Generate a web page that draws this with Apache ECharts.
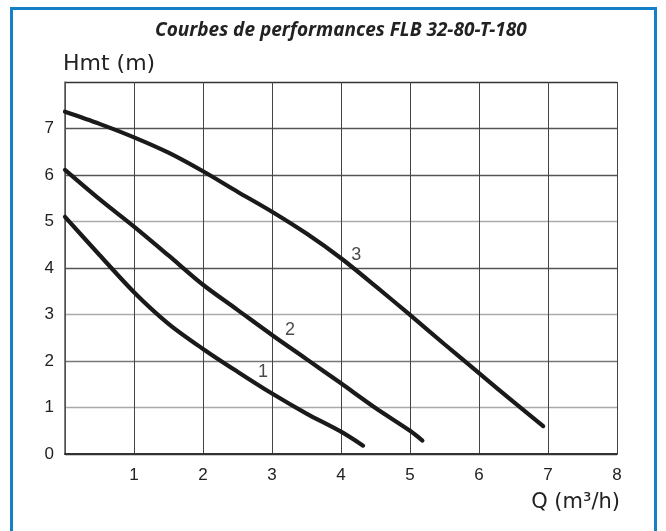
<!DOCTYPE html>
<html>
<head>
<meta charset="utf-8">
<script src="https://cdn.jsdelivr.net/npm/echarts@6/dist/echarts.min.js"></script>
<style>
    html, body { margin: 0; padding: 0; background: #fff; }
    #main { width: 666px; height: 531px; }
</style>
</head>
<body>
<div id="main"></div>
<script>
// courbe 1
var q1 = [0, 0.5, 1, 1.5, 2, 2.5, 3, 3.5, 4, 4.32];
var h1 = [5.1, 4.28, 3.48, 2.8, 2.26, 1.77, 1.3, 0.87, 0.48, 0.18];
// courbe 2
var q2 = [0, 0.5, 1, 1.5, 2, 2.5, 3, 3.5, 4, 4.5, 5, 5.18];
var h2 = [6.11, 5.48, 4.89, 4.27, 3.64, 3.1, 2.56, 2.04, 1.52, 0.99, 0.5, 0.29];
// courbe 3
var q3 = [0, 0.5, 1, 1.5, 2, 2.5, 3, 3.5, 4, 4.5, 5, 5.5, 6, 6.5, 6.93];
var h3 = [7.36, 7.1, 6.81, 6.48, 6.08, 5.64, 5.21, 4.74, 4.21, 3.61, 2.99, 2.36, 1.74, 1.12, 0.6];
// numeros des courbes
var curveNames = ['1', '2', '3'];
var labelQ = [2.87, 3.26, 4.22];
var labelH = [1.77, 2.67, 4.28];

function pairs(xs, ys) {
    var out = [];
    for (let i = 0; i < xs.length; i++) {
        out.push([xs[i], ys[i]]);
    }
    return out;
}

var labelData = [];
for (let i = 0; i < curveNames.length; i++) {
    labelData.push({ name: curveNames[i], value: [labelQ[i], labelH[i]] });
}

var curveStyle = { color: '#1a1a1a', width: 4.2, cap: 'round' };

var myChart = echarts.init(document.getElementById('main'));
var option = {
    animation: false,
    backgroundColor: '#fff',
    title: [{
        text: 'Courbes de performances FLB 32-80-T-180',
        left: 155,
        top: 21,
        padding: 0,
        textStyle: { fontFamily: 'Noto Sans', fontStyle: 'italic', fontWeight: 'bold', fontSize: 19, color: '#222' }
    }, {
        text: 'Hmt (m)',
        left: 63,
        top: 53,
        padding: 0,
        textStyle: { fontFamily: 'DejaVu Sans', fontWeight: 'normal', fontSize: 22, color: '#222' }
    }, {
        text: 'Q (m³/h)',
        right: 46,
        top: 492,
        padding: 0,
        textStyle: { fontFamily: 'DejaVu Sans', fontWeight: 'normal', fontSize: 21, color: '#222' }
    }],
    graphic: [{
        type: 'rect',
        shape: { x: 11.5, y: 8.5, width: 644, height: 530 },
        style: { fill: 'none', stroke: '#1480c8', lineWidth: 3 },
        silent: true
    }],
    grid: { left: 65, right: 49, top: 82, bottom: 77 },
    xAxis: {
        type: 'value',
        min: 0,
        max: 8,
        interval: 1,
        axisLine: { show: true, onZero: false, lineStyle: { color: '#333', width: 2 } },
        axisTick: { show: false },
        axisLabel: {
            margin: 13,
            fontFamily: 'Liberation Sans',
            fontSize: 17,
            color: '#222',
            formatter: function (v) { return v === 0 ? '' : v; }
        },
        splitLine: { show: true, lineStyle: { color: '#444', width: 1 } }
    },
    yAxis: {
        type: 'value',
        min: 0,
        max: 8,
        interval: 1,
        axisLine: { show: true, onZero: false, lineStyle: { color: '#555', width: 1.5 } },
        axisTick: { show: false },
        axisLabel: {
            margin: 11,
            fontFamily: 'Liberation Sans',
            fontSize: 17,
            color: '#222',
            formatter: function (v) { return v === 8 ? '' : v; }
        },
        splitLine: {
            show: true,
            lineStyle: {
                color: ['#333', '#aaa', '#777', '#aaa', '#555', '#aaa', '#555', '#555', '#333'],
                width: 1.3
            }
        }
    },
    series: [{
        type: 'line',
        data: pairs(q1, h1),
        smooth: 0.3,
        symbol: 'none',
        lineStyle: curveStyle
    }, {
        type: 'line',
        data: pairs(q2, h2),
        smooth: 0.3,
        symbol: 'none',
        lineStyle: curveStyle
    }, {
        type: 'line',
        data: pairs(q3, h3),
        smooth: 0.3,
        symbol: 'none',
        lineStyle: curveStyle
    }, {
        type: 'scatter',
        data: labelData,
        symbolSize: 0,
        label: {
            show: true,
            position: 'inside',
            formatter: '{b}',
            fontFamily: 'Liberation Sans',
            fontSize: 18,
            color: '#1a1a1a'
        }
    }]
};
myChart.setOption(option);
</script>
</body>
</html>
